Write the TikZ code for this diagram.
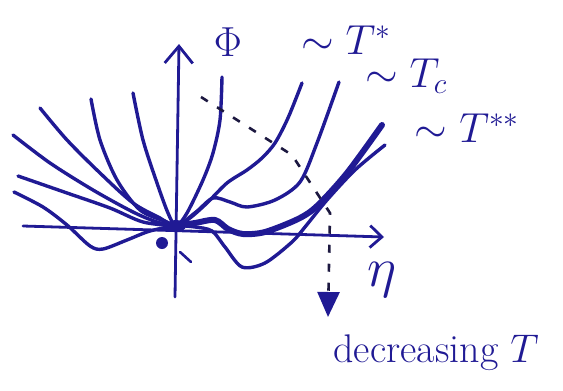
\RequirePackage{fix-cm}
\documentclass[tikz,border=0pt]{standalone}
\usepackage{amsmath,amssymb}
\usetikzlibrary{arrows.meta}
\definecolor{ink}{RGB}{32,26,148}
\definecolor{pencil}{RGB}{28,24,64}
\tikzset{branch/.style={ink,line width=3.4pt,line cap=round,line join=round},
 heavy/.style={branch,line width=6pt},
 axisline/.style={ink,line width=2.8pt,line cap=round},
 guide/.style={pencil,line width=2.6pt,dash pattern=on 8pt off 11pt},
 every node/.style={ink,font=\fontsize{42}{46}\selectfont}}

\begin{document}
\begin{tikzpicture}[x=1pt,y=-1pt]
\useasboundingbox (0,0) rectangle (563,391);
\coordinate (O) at (176,226);
% axes
\draw[axisline,-{Straight Barb[length=12pt,width=22pt,line width=2.8pt]}] (23,226) -- (384,237);
\draw[axisline,-{Straight Barb[length=17pt,width=28pt,line width=2.8pt]}] (175,297) -- (179,44);
% curves, from steep (high T) to flat (low T)
\draw[branch] plot[smooth] coordinates {(133,93) (143,140) (157,183) (168,213) (O)
 (187,213) (203,180) (213,153) (220,120) (222,77)};
\draw[branch] plot[smooth] coordinates {(91,99) (100,140) (117,180) (140,210) (167,222) (O)
 (190,218) (207,203) (227,183) (247,170) (262,158) (275,143) (288,118) (302,83)};
\draw[branch] plot[smooth] coordinates {(40,108) (67,140) (100,173) (133,203) (160,218) (O)
 (196,212) (213,198) (230,202) (247,207) (275,200) (300,182) (317,143) (339,82)};
\draw[branch] plot[smooth] coordinates {(13,135) (50,163) (93,190) (133,212) (157,222) (O)};
\draw[heavy] plot[smooth] coordinates {(O) (195,223) (215,220) (228,229) (243,234) (265,232)
 (298,219) (317,206) (347,173) (382,125)};
\draw[branch] plot[smooth] coordinates {(18,176) (67,193) (110,208) (143,222) (O)};
\draw[branch] plot[smooth] coordinates {(14,192) (43,207) (67,225) (90,246) (103,249) (127,240)
 (150,231) (O) (195,227) (212,231) (225,247) (242,267) (265,263) (292,242) (305,227)
 (327,200) (355,170) (385,145)};
% smudges near the origin
\fill[ink] (O) ellipse (10pt and 6pt);
\fill[ink] (162,243) circle (6pt);
\draw[branch,line width=2.6pt] (180,252) -- (191,262);
% path of the minimum
\draw[guide,-{Triangle[length=25pt,width=22pt,fill=ink,color=ink]}] (201,97) -- (292,155)
 -- (330,213) -- (328,317);
% labels
\node (phi) at (228,42) {$\Phi$};
\node (tstar) at (346,40) {$\sim T^{*}$};
\node (tc) at (406,76) {$\sim T_c$};
\node (tss) at (467,128) {$\sim T^{**}$};
\node[font=\fontsize{56}{60}\selectfont] (eta) at (382,280) {$\eta$};
\node[anchor=base west,font=\fontsize{40}{44}\selectfont] (dec) at (330,362) {decreasing $T$};
\end{tikzpicture}
\end{document}
